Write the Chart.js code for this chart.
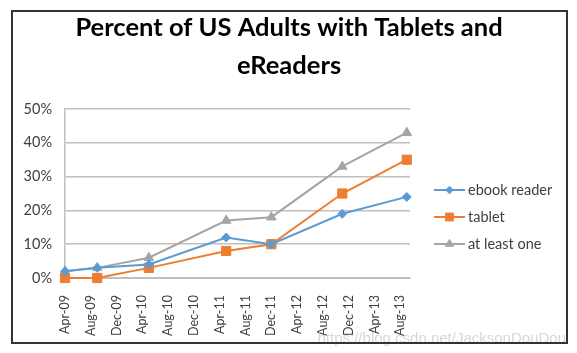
<!DOCTYPE html>
<html lang="en">
<head>
    <meta charset="utf-8">
    <title>Percent of US Adults with Tablets and eReaders</title>
    <script src="https://cdn.jsdelivr.net/npm/chart.js"></script>
    <style>
        html, body { margin: 0; padding: 0; background: #fff; }
        #wrap { position: relative; width: 577px; height: 353px; }
        #frame {
            position: absolute; left: 11px; top: 10px; width: 553px; height: 330px;
            border: 2px solid #333; pointer-events: none;
        }
        canvas { position: absolute; left: 0; top: 0; }
    </style>
</head>
<body>
    <div id="wrap">
        <canvas id="grafico" width="577" height="353"></canvas>
        <div id="frame"></div>
    </div>

    <script>
        // survey dates (year-month) and values in percent
        let surveyDates = ['2009-04', '2009-09', '2010-05', '2011-05', '2011-12', '2012-11', '2013-09'];
        let ebookReader = [2, 3, 4, 12, 10, 19, 24];
        let tablet = [0, 0, 3, 8, 10, 25, 35];
        let atLeastOne = [2, 3, 6, 17, 18, 33, 43];

        let tickLabels = ['Apr-09', 'Aug-09', 'Dec-09', 'Apr-10', 'Aug-10', 'Dec-10', 'Apr-11',
                          'Aug-11', 'Dec-11', 'Apr-12', 'Aug-12', 'Dec-12', 'Apr-13', 'Aug-13'];
        let yTicks = [0, 10, 20, 30, 40, 50];
        let titulo = ['Percent of US Adults with Tablets and', 'eReaders'];

        // months since Apr-09
        function mesDesde(d) {
            let [a, m] = d.split('-').map(Number);
            return (a - 2009) * 12 + (m - 4);
        }
        let xs = surveyDates.map(mesDesde);
        function pontos(vals) { return vals.map((v, i) => ({ x: xs[i], y: v })); }

        let series = [
            { label: 'ebook reader', data: ebookReader, cor: '#5B9BD5', forma: 'rectRot', r: 4.5 },
            { label: 'tablet', data: tablet, cor: '#ED7D31', forma: 'rect', r: 6.5 },
            { label: 'at least one', data: atLeastOne, cor: '#A5A5A5', forma: 'triangle', r: 5.5 }
        ];

        // title centered on the whole box, legend with line + marker, like Excel
        const extrasExcel = {
            id: 'extrasExcel',
            afterDraw(chart) {
                let ctx = chart.ctx;
                ctx.save();
                ctx.fillStyle = '#000';
                ctx.font = 'bold 25.5px Lato';
                ctx.textAlign = 'center';
                ctx.textBaseline = 'middle';
                ctx.fillText(titulo[0], 289, 28);
                ctx.fillText(titulo[1], 289, 66);
                ctx.restore();

                let ys = [190, 217, 244];
                chart.data.datasets.forEach((ds, i) => {
                    let y = ys[i];
                    ctx.save();
                    ctx.strokeStyle = ds.borderColor;
                    ctx.lineWidth = 2;
                    ctx.beginPath();
                    ctx.moveTo(434, y); ctx.lineTo(465, y);
                    ctx.stroke();
                    ctx.fillStyle = ds.borderColor;
                    ctx.lineWidth = 1;
                    Chart.helpers.drawPoint(ctx, {
                        pointStyle: ds.pointStyle, radius: ds.pointRadius * 0.85, borderWidth: 1
                    }, 449.5, y);
                    ctx.fillStyle = '#404040';
                    ctx.font = '14.5px Lato';
                    ctx.textBaseline = 'middle';
                    ctx.fillText(ds.label, 468, y);
                    ctx.restore();
                });
                // watermark
                ctx.save();
                ctx.font = '15px "Liberation Sans"';
                ctx.fillStyle = 'rgba(200,200,200,0.7)';
                ctx.textAlign = 'right';
                ctx.textBaseline = 'middle';
                ctx.fillText('https://blog.csdn.net/JacksonDouDou', 566, 339);
                ctx.restore();
            }
        };

        new Chart(document.getElementById('grafico'), {
            type: 'line',
            data: {
                datasets: series.map(s => ({
                    label: s.label,
                    data: pontos(s.data),
                    borderColor: s.cor,
                    backgroundColor: s.cor,
                    borderWidth: 2,
                    pointStyle: s.forma,
                    pointRadius: s.r,
                    pointBorderWidth: 1,
                    pointHoverRadius: s.r,
                    tension: 0,
                    fill: false,
                    clip: false
                }))
            },
            options: {
                responsive: false,
                animation: false,
                layout: { padding: { left: 0, right: 167, top: 109, bottom: 0 } },
                plugins: {
                    legend: { display: false },
                    tooltip: { enabled: false },
                    title: { display: false }
                },
                scales: {
                    x: {
                        type: 'linear',
                        min: 0,
                        max: 53.5,
                        afterBuildTicks(scale) {
                            scale.ticks = tickLabels.map((t, i) => ({ value: i * 4 }));
                        },
                        afterFit(scale) { scale.height = 75; },
                        grid: { display: false },
                        border: { display: true, color: '#BFBFBF', width: 1 },
                        ticks: {
                            minRotation: 90, maxRotation: 90, padding: 9,
                            autoSkip: false,
                            color: '#404040',
                            font: { family: 'Lato', size: 12.5 },
                            callback: v => tickLabels[v / 4]
                        }
                    },
                    y: {
                        min: 0,
                        max: 50,
                        afterBuildTicks(scale) {
                            scale.ticks = yTicks.map(v => ({ value: v }));
                        },
                        afterFit(scale) { scale.width = 65; },
                        grid: { color: '#BFBFBF', lineWidth: 1.5, drawTicks: false },
                        border: { display: true, color: '#BFBFBF', width: 1.5 },
                        ticks: {
                            padding: 13,
                            color: '#404040',
                            font: { family: 'Lato', size: 14.5 },
                            callback: v => v + '%'
                        }
                    }
                }
            },
            plugins: [extrasExcel]
        });
    </script>
</body>
</html>
